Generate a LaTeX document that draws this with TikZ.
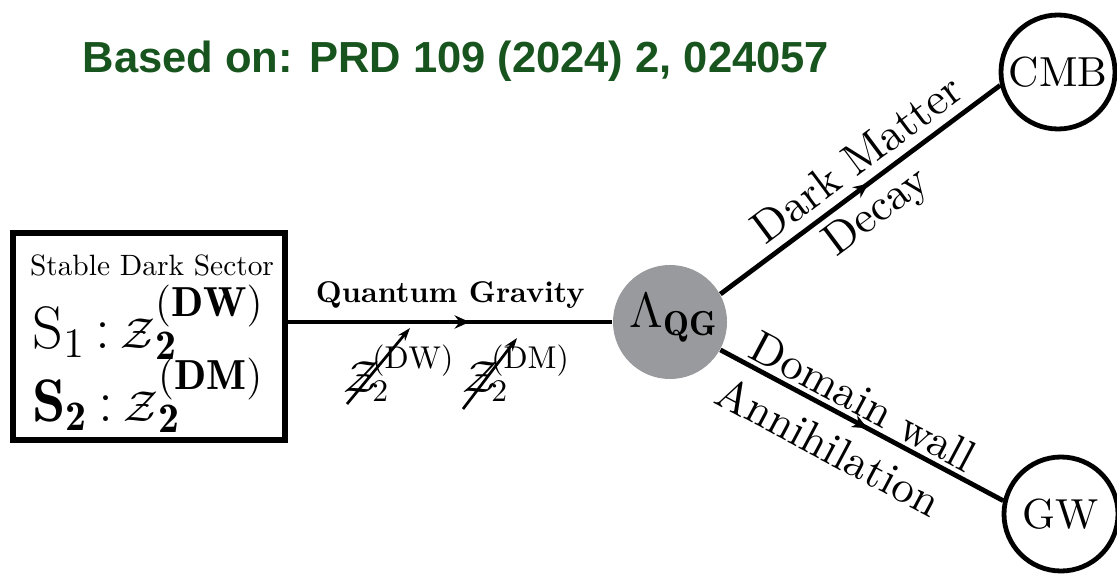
\RequirePackage{fix-cm}
\documentclass[tikz,border=0pt]{standalone}
\usepackage{fontspec}
\usetikzlibrary{arrows.meta,decorations.markings}
\newfontfamily\headfont{Liberation Sans}
\newfontfamily\lmten{lmroman10-regular}[Extension=.otf, BoldFont=lmroman10-bold]
\definecolor{prdgreen}{RGB}{24,84,30}
\definecolor{qggray}{RGB}{153,154,157}
\newcommand{\zsym}{\mbox{\fontsize{14.4}{17}\selectfont$\mathcal{Z}$}}

\begin{document}
\begin{tikzpicture}[x=0.3333pt,y=-0.3333pt,
        link/.style={line width=1.6pt},
        midarrow/.style={decoration={markings,
            mark=at position #1 with {\arrow{Stealth[length=5pt,width=4.4pt]}}},
          postaction={decorate}},
        slash/.style={line width=0.9pt, -{Stealth[length=4.4pt,width=3pt]}},
        blob/.style={circle, draw, line width=1.6pt, minimum size=38pt, inner sep=0pt,
          font=\lmten\fontsize{14}{17}\selectfont},
        lbl/.style={sloped, inner sep=1pt, font=\lmten\fontsize{15}{18}\selectfont},
        broken/.style={anchor=base west, inner sep=0pt, font=\fontsize{15}{18}\selectfont}
      ]
      \useasboundingbox (0,0) rectangle (1117,576);
      \node[font=\headfont\bfseries\fontsize{14.5}{17}\selectfont, text=prdgreen, anchor=base]
        (ref) at (456,73) {Based on: PRD 109 (2024) 2, 024057};

      \node[draw, line width=2pt, minimum width=90.7pt, minimum height=69pt] (sector) at (149,336.5) {};
      \node[anchor=base, font=\lmten\fontsize{9.8}{12}\selectfont] (sdsname) at (152,275) {Stable Dark Sector};
      \node[anchor=base west, inner sep=0pt, font=\fontsize{20}{24}\selectfont] (sone) at (32,348)
        {$\mathrm{S}_1\mskip3mu{:}\mskip3mu\zsym_{\mathbf 2}^{(\mathbf{DW})}$};
      \node[anchor=base west, inner sep=0pt, font=\fontsize{20}{24}\selectfont] (stwo) at (32,421)
        {$\mathbf{S}_{\mathbf 2}\mskip3mu{:}\mskip3mu\zsym_{\mathbf 2}^{(\mathbf{DM})}$};

      \node[circle, fill=qggray, minimum size=38pt, inner sep=0pt] (qg) at (670,322) {};
      \node[font=\fontsize{16.5}{19}\selectfont, inner sep=0pt] (qgname) at (674,318) {$\Lambda_{\mathbf{QG}}$};
      \node[blob] (cmb) at (1058,72) {CMB};
      \node[blob] (gw) at (1061,514) {GW};

      \draw[link, midarrow=0.56] (sector.east |- qg) -- (qg)
        node[pos=0.5, above=2.7pt, inner sep=1pt, font=\lmten\bfseries\fontsize{10}{12}\selectfont] (qgrav) {Quantum Gravity};
      \draw[link, midarrow=0.53] (qg.29) -- (cmb.193)
        node[lbl, pos=0.545, above=2pt] (dmname) {Dark Matter}
        node[lbl, pos=0.5, below=1.2pt] (dcname) {Decay};
      \draw[link, midarrow=0.52] (qg.-29) -- (gw.167)
        node[lbl, pos=0.47, above=0.3pt] (dwname) {Domain wall}
        node[lbl, pos=0.44, below=4pt] (anname) {Annihilation};

      \node[broken] (zdw) at (343,392) {$\mathcal{Z}\mkern-3mu_2^{(\mathrm{DW})}$};
      \node[broken] (zdm) at (462,392) {$\mathcal{Z}\mkern-3mu_2^{(\mathrm{DM})}$};
      \coordinate (dwtail) at (347,404);
      \coordinate (dwtip) at (410,328);
      \coordinate (dmtail) at (463,409);
      \coordinate (dmtip) at (517,338);
      \draw[slash] (dwtail) -- (dwtip);
      \draw[slash] (dmtail) -- (dmtip);
    \end{tikzpicture}
\end{document}
